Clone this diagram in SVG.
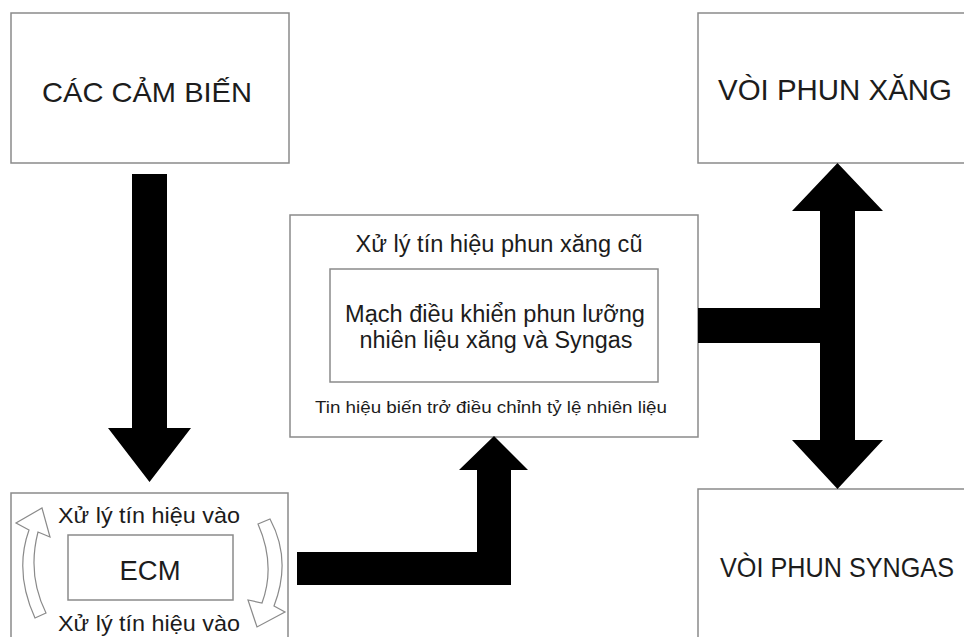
<svg xmlns="http://www.w3.org/2000/svg" width="964" height="637" viewBox="0 0 964 637">
<style>
.box{fill:#fff;stroke:#8a8a8a;stroke-width:1.5}
.t{font-family:"Liberation Sans",Arial,sans-serif;fill:#1c1c1c;text-anchor:middle}
.arr{fill:#000}
.curl{fill:#fff;stroke:#8a8a8a;stroke-width:1.2}
</style>
<rect width="964" height="637" fill="#fff"/>
<g id="sensors">
<rect class="box" x="11" y="13" width="278" height="150"/>
<text class="t" x="147" y="102" font-size="28" textLength="210" lengthAdjust="spacingAndGlyphs">CÁC CẢM BIẾN</text>
</g>
<g id="ecm">
<rect class="box" x="11" y="493" width="277" height="160"/>
<rect class="box" x="68" y="535" width="165" height="65"/>
<text class="t" x="150" y="580" font-size="27" textLength="61" lengthAdjust="spacingAndGlyphs">ECM</text>
<text class="t" x="149" y="523" font-size="22" textLength="182" lengthAdjust="spacingAndGlyphs">Xử lý tín hiệu vào</text>
<text class="t" x="149" y="631" font-size="22" textLength="182" lengthAdjust="spacingAndGlyphs">Xử lý tín hiệu vào</text>
<path class="curl" d="M35,618 Q14,572 29,530 L16,523 L42,508 L50,537 L38,532 Q27,575 46,613 Z"/>
<path class="curl" d="M258,524 L270,519 Q292,560 274,606 L285,612 L257,627 L248,600 L262,603 Q276,565 258,524 Z"/>
</g>
<g id="controller">
<rect class="box" x="290" y="215" width="408" height="222"/>
<text class="t" x="499" y="252" font-size="23" textLength="287" lengthAdjust="spacingAndGlyphs">Xử lý tín hiệu phun xăng cũ</text>
<rect class="box" x="330" y="269" width="328" height="113"/>
<text class="t" x="495" y="322" font-size="23" textLength="300" lengthAdjust="spacingAndGlyphs">Mạch điều khiển phun lưỡng</text>
<text class="t" x="496" y="348" font-size="23" textLength="273" lengthAdjust="spacingAndGlyphs">nhiên liệu xăng và Syngas</text>
<text class="t" x="491" y="413" font-size="16" textLength="352" lengthAdjust="spacingAndGlyphs">Tin hiệu biến trở điều chỉnh tỷ lệ nhiên liệu</text>
</g>
<g id="petrol-injector">
<rect class="box" x="698" y="13" width="300" height="150"/>
<text class="t" x="835" y="100" font-size="29" textLength="234" lengthAdjust="spacingAndGlyphs">VÒI PHUN XĂNG</text>
</g>
<g id="syngas-injector">
<rect class="box" x="698" y="489" width="300" height="170"/>
<text class="t" x="837" y="577" font-size="28" textLength="234" lengthAdjust="spacingAndGlyphs">VÒI PHUN SYNGAS</text>
</g>
<g id="connectors">
<polygon class="arr" points="132,174 167,174 167,428 191,428 149.5,482 108,428 132,428"/>
<polygon class="arr" points="297,552 477,552 477,470 459,470 494,436 528,470 511,470 511,585 297,585"/>
<polygon class="arr" points="837.5,163 883,211 855,211 855,440 883,440 837.5,489 792,440 820,440 820,343 698,343 698,308 820,308 820,211 792,211"/>
</g>
</svg>
